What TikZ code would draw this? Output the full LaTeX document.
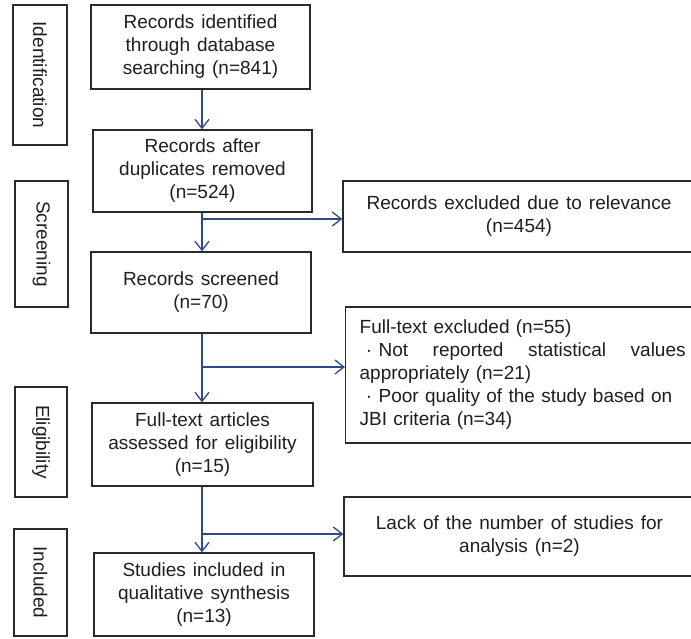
\documentclass[tikz,border=0pt]{standalone}
\usepackage{fontspec}
\setmainfont{Liberation Sans}
\usetikzlibrary{arrows.meta}
\definecolor{arrowblue}{HTML}{2F4A86}
\definecolor{txt}{HTML}{1E1E1E}
\definecolor{edge}{HTML}{2A2A2A}
\newcommand{\boxfont}{\fontsize{19}{23}\selectfont\spaceskip=0.37em plus 0.3em minus 0.05em\relax}
\tikzset{
  box/.style={draw=edge, line width=1.3pt, text=txt, align=center, inner sep=0pt,
    font=\boxfont},
  side/.style={box, rotate=-90},
  arr/.style={draw=arrowblue, line width=1.3pt, -{Straight Barb[length=9pt,width=14pt]}}
}
\begin{document}
\begin{tikzpicture}[x=1pt,y=-1pt]
\useasboundingbox (0,0) rectangle (691,638);
\clip (0,0) rectangle (691,638);
% side labels (rotated: width/height swapped)
\node[side, minimum width=140, minimum height=54] (id) at (40,75) {Identification};
\node[side, minimum width=126, minimum height=53] (scr) at (41.5,244) {Screening};
\node[side, minimum width=110, minimum height=52] (eli) at (41,442) {Eligibility};
\node[side, minimum width=107, minimum height=53] (inc) at (40.5,582.5) {Included};
% main column
\node[box, minimum width=219, minimum height=84] (b1) at (200.5,47) {Records identified\\through database\\searching (n=841)};
\node[box, minimum width=219, minimum height=82] (b2) at (202.5,171) {Records after\\duplicates removed\\(n=524)};
\node[box, minimum width=220, minimum height=81] (b3) at (201,292.5) {Records screened\\(n=70)};
\node[box, minimum width=221, minimum height=83] (b4) at (202.5,444.5) {Full-text articles\\assessed for eligibility\\(n=15)};
\node[box, minimum width=220, minimum height=83] (b5) at (204,594.5) {Studies included in\\qualitative synthesis\\(n=13)};
% right column
\node[box, minimum width=350, minimum height=136, anchor=west, text width=326pt, inner xsep=14pt, align=left] (r2) at (345,375)
  {Full-text excluded (n=55)\\
   \leavevmode\hbox to 326pt{ \textperiodcentered\ Not\hfill reported\hfill statistical\hfill values}\\
   appropriately (n=21)\\
   \leavevmode\hbox to 326pt{ \textperiodcentered\ Poor quality of the study based on\hfill}\\
   JBI criteria (n=34)};
\node[box, minimum width=352, minimum height=71] (r1) at (519,216.5) {Records excluded due to relevance\\(n=454)};
\node[box, minimum width=351, minimum height=79] (r3) at (519.5,536.5) {Lack of the number of studies for\\analysis (n=2)};
% connectors
\coordinate (sx) at (202,0);
\coordinate (j1) at (202,219);
\coordinate (j2) at (202,367);
\coordinate (j3) at (202,534);
\draw[arr] (b1.south -| sx) -- (b2.north -| sx);
\draw[arr] (b2.south -| sx) -- (b3.north -| sx);
\draw[arr] (b3.south -| sx) -- (b4.north -| sx);
\draw[arr] (b4.south -| sx) -- (b5.north -| sx);
\draw[arr] (j1) -- (j1 -| r1.west);
\draw[arr] (j2) -- (j2 -| r2.west);
\draw[arr] (j3) -- (j3 -| r3.west);
\end{tikzpicture}
\end{document}
